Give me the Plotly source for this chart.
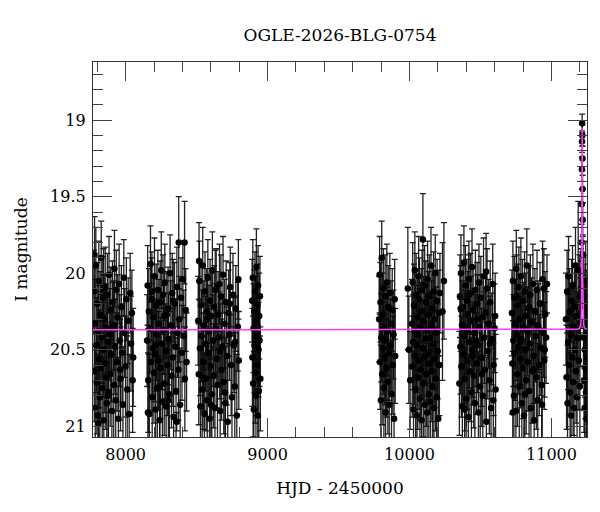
import plotly.graph_objects as go

# --- photometry, season by season (HJD - 2450000, I mag, error) ---
t_s1 = [7776, 7779, 7783, 7786, 7790, 7793, 7797, 7800, 7804, 7807,
        7811, 7814, 7818, 7821, 7825, 7828, 7832, 7835, 7839, 7842,
        7846, 7849, 7853, 7856, 7860, 7864, 7867, 7871, 7875, 7879,
        7883, 7887, 7891, 7895, 7899, 7903, 7907, 7912, 7916, 7921,
        7925, 7930, 7934, 7939, 7944, 7949, 7954, 7959, 7964, 7970,
        7975, 7981, 7987, 7993, 7999, 8005, 8011, 8018, 8025, 8032,
        8038, 8044, 8049, 8053, 7781, 7809, 7844, 7877, 7918, 7962]
mag_s1 = [20.12, 20.64, 20.33, 20.88, 19.95, 20.47, 20.71, 20.20, 20.93, 20.38,
          20.05, 20.56, 20.81, 20.27, 20.62, 19.90, 20.42, 20.75, 20.16, 20.50,
          20.96, 20.30, 20.59, 20.09, 20.68, 20.36, 20.85, 20.14, 20.45, 20.78,
          20.01, 20.40, 20.66, 20.24, 20.53, 20.90, 20.19, 20.35, 20.73, 19.97,
          20.48, 20.83, 20.11, 20.58, 20.29, 20.95, 20.07, 20.44, 20.69, 20.22,
          20.52, 20.86, 20.03, 20.39, 20.61, 20.17, 20.76, 20.31, 20.92, 20.13,
          20.46, 20.26, 20.70, 20.55, 19.88, 20.98, 20.10, 20.80, 20.34, 20.63]
err_s1 = [0.27, 0.33, 0.29, 0.38, 0.25, 0.31, 0.34, 0.27, 0.40, 0.30,
          0.26, 0.32, 0.36, 0.28, 0.33, 0.24, 0.30, 0.35, 0.27, 0.31,
          0.41, 0.29, 0.32, 0.26, 0.34, 0.29, 0.37, 0.27, 0.31, 0.35,
          0.25, 0.30, 0.34, 0.28, 0.31, 0.39, 0.27, 0.29, 0.35, 0.25,
          0.31, 0.37, 0.26, 0.32, 0.28, 0.40, 0.26, 0.30, 0.34, 0.27,
          0.32, 0.38, 0.25, 0.29, 0.33, 0.27, 0.35, 0.28, 0.39, 0.26,
          0.31, 0.28, 0.34, 0.32, 0.25, 0.42, 0.26, 0.36, 0.29, 0.33]

t_s2 = [8151, 8155, 8159, 8163, 8167, 8171, 8175, 8179, 8183, 8187,
        8191, 8195, 8199, 8203, 8207, 8211, 8215, 8219, 8223, 8227,
        8231, 8235, 8239, 8243, 8247, 8251, 8255, 8259, 8263, 8268,
        8272, 8276, 8281, 8285, 8290, 8294, 8299, 8303, 8308, 8313,
        8318, 8323, 8328, 8333, 8338, 8344, 8349, 8355, 8361, 8366,
        8372, 8378, 8384, 8390, 8397, 8403, 8410, 8417, 8423, 8429,
        8157, 8185, 8213, 8241, 8270, 8301, 8335, 8360, 8374, 8415]
mag_s2 = [20.44, 20.08, 20.70, 20.25, 20.92, 20.36, 19.94, 20.58, 20.17, 20.81,
          20.49, 20.29, 20.65, 20.02, 20.53, 20.89, 20.21, 20.40, 20.75, 20.11,
          20.57, 20.33, 20.96, 20.19, 20.62, 19.98, 20.46, 20.84, 20.14, 20.37,
          20.72, 20.06, 20.51, 20.87, 20.27, 20.60, 20.23, 20.43, 20.79, 20.00,
          20.34, 20.67, 20.13, 20.55, 20.94, 20.20, 20.48, 20.77, 20.09, 20.39,
          20.63, 20.30, 20.86, 20.16, 20.52, 20.04, 20.41, 20.69, 20.24, 20.58,
          20.91, 20.12, 20.47, 20.74, 20.28, 20.83, 20.18, 20.97, 19.80, 19.80]
err_s2 = [0.30, 0.26, 0.34, 0.28, 0.39, 0.29, 0.25, 0.32, 0.27, 0.36,
          0.31, 0.28, 0.33, 0.25, 0.31, 0.38, 0.27, 0.30, 0.35, 0.26,
          0.32, 0.29, 0.42, 0.27, 0.33, 0.25, 0.30, 0.37, 0.26, 0.29,
          0.34, 0.25, 0.31, 0.38, 0.28, 0.33, 0.27, 0.30, 0.36, 0.25,
          0.29, 0.34, 0.26, 0.32, 0.40, 0.27, 0.31, 0.35, 0.26, 0.29,
          0.33, 0.28, 0.37, 0.26, 0.31, 0.25, 0.30, 0.34, 0.27, 0.32,
          0.39, 0.26, 0.30, 0.35, 0.28, 0.37, 0.27, 0.06, 0.30, 0.27]

t_s3 = [8511, 8515, 8519, 8523, 8527, 8531, 8535, 8539, 8543, 8547,
        8551, 8555, 8559, 8563, 8567, 8571, 8575, 8579, 8583, 8587,
        8591, 8595, 8599, 8603, 8607, 8611, 8616, 8620, 8624, 8629,
        8633, 8638, 8642, 8647, 8651, 8656, 8661, 8666, 8671, 8676,
        8681, 8686, 8691, 8697, 8702, 8708, 8713, 8719, 8725, 8731,
        8737, 8743, 8749, 8756, 8762, 8769, 8776, 8783, 8790, 8797,
        8517, 8545, 8573, 8601, 8631, 8664, 8700, 8735, 8771, 8794]
mag_s3 = [20.31, 20.66, 20.05, 20.49, 20.87, 20.21, 20.41, 20.76, 19.95, 20.58,
          20.34, 20.92, 20.12, 20.46, 20.69, 20.25, 20.83, 20.03, 20.52, 20.38,
          20.95, 20.18, 20.61, 20.28, 20.79, 19.98, 20.44, 20.67, 20.22, 20.88,
          20.36, 20.10, 20.56, 20.73, 20.27, 20.42, 20.07, 20.90, 20.15, 20.63,
          20.48, 20.01, 20.71, 20.33, 20.85, 20.19, 20.54, 20.97, 20.26, 20.40,
          20.09, 20.60, 20.81, 20.14, 20.47, 20.74, 20.23, 20.93, 20.35, 20.57,
          19.92, 20.68, 20.30, 20.86, 20.11, 20.51, 20.78, 20.20, 20.45, 20.04]
err_s3 = [0.29, 0.33, 0.26, 0.31, 0.37, 0.27, 0.30, 0.35, 0.25, 0.32,
          0.29, 0.40, 0.26, 0.31, 0.34, 0.28, 0.37, 0.25, 0.31, 0.30,
          0.41, 0.27, 0.33, 0.28, 0.36, 0.25, 0.30, 0.34, 0.27, 0.38,
          0.29, 0.26, 0.32, 0.35, 0.28, 0.30, 0.26, 0.39, 0.27, 0.33,
          0.31, 0.25, 0.34, 0.29, 0.37, 0.27, 0.32, 0.42, 0.28, 0.30,
          0.26, 0.33, 0.36, 0.27, 0.31, 0.35, 0.28, 0.40, 0.29, 0.32,
          0.25, 0.34, 0.29, 0.38, 0.26, 0.31, 0.36, 0.27, 0.30, 0.26]

t_s4 = [8891, 8893, 8896, 8898, 8901, 8903, 8906, 8908, 8911, 8913,
        8916, 8918, 8921, 8923, 8926, 8928, 8931, 8933, 8936, 8938,
        8941, 8943, 8946, 8949]
mag_s4 = [20.18, 20.55, 20.03, 20.72, 20.36, 20.89, 20.25, 20.47, 20.12, 20.65,
          20.31, 20.80, 19.96, 20.41, 20.60, 20.21, 20.93, 20.08, 20.50, 20.77,
          20.28, 20.44, 20.15, 20.69]
err_s4 = [0.27, 0.32, 0.25, 0.35, 0.29, 0.38, 0.27, 0.31, 0.26, 0.33,
          0.29, 0.36, 0.25, 0.30, 0.33, 0.27, 0.40, 0.26, 0.31, 0.35,
          0.28, 0.30, 0.26, 0.34]

t_s5 = [9786, 9789, 9792, 9795, 9798, 9801, 9804, 9807, 9810, 9813,
        9816, 9819, 9822, 9825, 9828, 9831, 9834, 9837, 9840, 9843,
        9847, 9850, 9854, 9857, 9861, 9865, 9869, 9873, 9878, 9882,
        9887, 9891, 9895, 9899]
mag_s5 = [20.30, 20.01, 20.58, 20.19, 20.83, 20.42, 19.90, 20.66, 20.27, 20.49,
          20.10, 20.75, 20.36, 20.55, 20.15, 20.91, 20.44, 20.62, 20.06, 20.38,
          20.71, 20.22, 20.52, 20.86, 20.13, 20.47, 20.33, 20.79, 20.24, 20.60,
          20.40, 20.95, 20.17, 20.54]
err_s5 = [0.28, 0.25, 0.31, 0.26, 0.36, 0.29, 0.24, 0.33, 0.27, 0.30,
          0.26, 0.34, 0.28, 0.31, 0.27, 0.39, 0.29, 0.32, 0.25, 0.29,
          0.34, 0.27, 0.31, 0.37, 0.26, 0.30, 0.28, 0.35, 0.27, 0.32,
          0.29, 0.41, 0.26, 0.31]

t_s6 = [9988, 9995, 10004, 10016, 10019, 10022, 10025, 10028, 10031, 10034,
        10037, 10040, 10043, 10046, 10049, 10052, 10055, 10058, 10061, 10064,
        10067, 10070, 10073, 10076, 10079, 10082, 10085, 10088, 10091, 10094,
        10097, 10100, 10103, 10106, 10109, 10112, 10115, 10118, 10121, 10124,
        10127, 10130, 10133, 10136, 10139, 10142, 10145, 10148, 10151, 10154,
        10157, 10160, 10163, 10166, 10169, 10172, 10175, 10178, 10181, 10184,
        10187, 10190, 10194, 10198, 10202, 10206, 10210, 10214, 10232, 10242]
mag_s6 = [20.10, 20.50, 20.70, 20.33, 20.61, 20.06, 20.45, 20.89, 20.21, 20.54,
          19.98, 20.38, 20.76, 20.14, 20.47, 20.93, 20.29, 20.68, 20.40, 20.02,
          20.57, 20.17, 20.82, 20.35, 20.63, 20.25, 20.96, 20.11, 20.49, 19.78,
          20.72, 20.31, 20.55, 20.08, 20.86, 20.43, 20.19, 20.66, 20.37, 20.91,
          20.04, 20.52, 20.27, 20.79, 20.15, 20.59, 20.42, 20.84, 19.95, 20.34,
          20.64, 20.23, 20.74, 20.46, 20.12, 20.88, 20.30, 20.56, 20.00, 20.69,
          20.39, 20.81, 20.18, 20.51, 20.95, 20.26, 20.60, 20.13, 20.25, 20.05]
err_s6 = [0.40, 0.35, 0.32, 0.29, 0.33, 0.26, 0.31, 0.38, 0.27, 0.32,
          0.25, 0.30, 0.35, 0.27, 0.31, 0.40, 0.28, 0.34, 0.30, 0.26,
          0.32, 0.27, 0.37, 0.29, 0.33, 0.28, 0.42, 0.26, 0.31, 0.30,
          0.35, 0.29, 0.32, 0.26, 0.38, 0.30, 0.27, 0.34, 0.29, 0.40,
          0.25, 0.31, 0.28, 0.36, 0.27, 0.33, 0.30, 0.37, 0.25, 0.29,
          0.33, 0.28, 0.35, 0.30, 0.26, 0.39, 0.29, 0.32, 0.25, 0.34,
          0.30, 0.36, 0.27, 0.31, 0.41, 0.28, 0.33, 0.26, 0.45, 0.38]

t_s7 = [10351, 10355, 10358, 10362, 10365, 10369, 10372, 10376, 10379, 10383,
        10386, 10390, 10393, 10397, 10400, 10404, 10407, 10411, 10414, 10418,
        10421, 10425, 10429, 10432, 10436, 10440, 10444, 10448, 10452, 10456,
        10460, 10464, 10468, 10472, 10476, 10480, 10485, 10489, 10493, 10498,
        10502, 10507, 10511, 10516, 10521, 10526, 10531, 10536, 10541, 10546,
        10551, 10557, 10562, 10568, 10574, 10580, 10586, 10592, 10599, 10606,
        10360, 10388, 10416, 10446, 10478, 10509, 10539, 10566, 10590, 10603]
mag_s7 = [20.72, 20.15, 20.48, 20.00, 20.61, 20.34, 20.87, 20.22, 20.53, 19.93,
          20.41, 20.69, 20.08, 20.37, 20.82, 20.18, 20.57, 20.27, 20.94, 20.04,
          20.45, 20.64, 20.13, 20.31, 20.78, 19.96, 20.50, 20.24, 20.67, 20.39,
          20.85, 20.11, 20.44, 20.59, 20.20, 20.47, 20.91, 20.06, 20.35, 20.74,
          20.16, 20.55, 20.29, 20.80, 20.02, 20.42, 20.63, 20.26, 20.97, 20.10,
          20.51, 20.33, 20.70, 20.19, 20.88, 20.43, 20.07, 20.60, 20.36, 20.76,
          20.23, 20.89, 20.14, 20.54, 20.30, 20.66, 19.99, 20.46, 20.83, 20.28]
err_s7 = [0.34, 0.27, 0.31, 0.25, 0.33, 0.29, 0.38, 0.27, 0.32, 0.24,
          0.30, 0.34, 0.26, 0.29, 0.37, 0.27, 0.32, 0.28, 0.41, 0.25,
          0.30, 0.33, 0.26, 0.29, 0.36, 0.25, 0.31, 0.28, 0.34, 0.29,
          0.38, 0.26, 0.30, 0.33, 0.27, 0.31, 0.40, 0.25, 0.29, 0.35,
          0.27, 0.32, 0.28, 0.36, 0.25, 0.30, 0.34, 0.28, 0.42, 0.26,
          0.31, 0.29, 0.35, 0.27, 0.39, 0.30, 0.26, 0.33, 0.29, 0.36,
          0.28, 0.39, 0.26, 0.32, 0.29, 0.34, 0.25, 0.31, 0.37, 0.28]

t_s8 = [10721, 10724, 10728, 10731, 10735, 10738, 10742, 10745, 10749, 10752,
        10756, 10759, 10763, 10766, 10770, 10773, 10777, 10780, 10784, 10787,
        10791, 10795, 10798, 10802, 10806, 10810, 10814, 10818, 10822, 10826,
        10830, 10834, 10838, 10842, 10846, 10851, 10855, 10860, 10864, 10869,
        10873, 10878, 10883, 10888, 10893, 10898, 10903, 10908, 10914, 10919,
        10925, 10931, 10937, 10943, 10949, 10955, 10727, 10754, 10782, 10812,
        10844, 10875, 10905, 10934, 10946, 10952, 10968, 10962]
mag_s8 = [20.26, 20.59, 20.05, 20.44, 20.80, 20.16, 20.52, 20.33, 20.90, 19.97,
          20.40, 20.66, 20.21, 20.48, 20.09, 20.74, 20.30, 20.56, 20.02, 20.43,
          20.85, 20.18, 20.62, 20.35, 20.93, 20.12, 20.50, 20.28, 20.70, 19.95,
          20.38, 20.58, 20.23, 20.77, 20.46, 20.14, 20.88, 20.32, 20.64, 20.07,
          20.54, 20.96, 20.25, 20.41, 20.68, 20.11, 20.83, 20.36, 20.60, 20.20,
          20.49, 20.73, 20.04, 20.39, 20.57, 20.27, 20.91, 20.15, 20.45, 20.79,
          20.22, 20.63, 20.34, 20.86, 20.10, 20.50, 20.07, 20.42]
err_s8 = [0.28, 0.33, 0.26, 0.30, 0.36, 0.27, 0.31, 0.29, 0.39, 0.25,
          0.30, 0.34, 0.27, 0.31, 0.26, 0.35, 0.29, 0.32, 0.25, 0.30,
          0.37, 0.27, 0.33, 0.29, 0.41, 0.26, 0.31, 0.28, 0.35, 0.24,
          0.29, 0.32, 0.27, 0.36, 0.30, 0.26, 0.38, 0.29, 0.34, 0.26,
          0.31, 0.42, 0.28, 0.30, 0.34, 0.26, 0.37, 0.29, 0.33, 0.27,
          0.31, 0.35, 0.25, 0.29, 0.32, 0.28, 0.40, 0.27, 0.30, 0.36,
          0.27, 0.33, 0.29, 0.38, 0.26, 0.31, 0.19, 0.30]

t_s9 = [11102, 11106, 11110, 11113, 11117, 11120, 11124, 11127, 11131, 11134,
        11138, 11141, 11145, 11148, 11152, 11155, 11159, 11162, 11166, 11169,
        11173, 11176, 11180, 11184, 11188, 11192, 11196, 11200, 11204, 11208,
        11211, 11212, 11213, 11214, 11215, 11216, 11217, 11218, 11219, 11220,
        11221, 11222,
        11225, 11227, 11229, 11231, 11233, 11235, 11237, 11239, 11241, 11243,
        11245, 11247, 11249, 11250]
mag_s9 = [20.30, 20.68, 20.12, 20.85, 20.45, 20.02, 20.60, 20.25, 20.78, 20.40,
          20.93, 20.18, 20.55, 20.08, 20.71, 20.35, 20.88, 20.22, 20.50, 19.95,
          20.64, 20.28, 20.81, 20.42, 19.98, 20.57, 20.15, 20.74, 20.32, 20.10,
          20.00, 19.80, 19.55, 19.32, 19.14, 19.02, 19.10, 19.25, 19.45, 19.65,
          19.88, 20.05,
          20.42, 20.15, 20.70, 20.33, 20.88, 20.50, 20.22, 20.62, 20.05, 20.78,
          20.38, 20.95, 20.26, 20.55]
err_s9 = [0.30, 0.34, 0.27, 0.38, 0.31, 0.26, 0.33, 0.28, 0.36, 0.30,
          0.41, 0.27, 0.32, 0.26, 0.35, 0.29, 0.39, 0.28, 0.31, 0.25,
          0.34, 0.28, 0.37, 0.30, 0.45, 0.32, 0.27, 0.35, 0.29, 0.26,
          0.14, 0.12, 0.10, 0.08, 0.07, 0.06, 0.07, 0.08, 0.09, 0.11,
          0.13, 0.15,
          0.30, 0.27, 0.34, 0.29, 0.38, 0.31, 0.28, 0.33, 0.26, 0.36,
          0.30, 0.41, 0.28, 0.32]

# --- model light curve ---
model_t = [7770, 11150, 11185, 11198, 11205, 11209, 11211, 11213, 11214, 11215, 11216, 11217, 11218, 11219,
           11221, 11223, 11227, 11234, 11247, 11250]
model_mag = [20.37, 20.37, 20.366, 20.36, 20.34, 20.30, 20.24, 20.0, 19.72, 19.35, 19.05, 19.35, 19.72, 20.0,
             20.24, 20.30, 20.34, 20.36, 20.366, 20.367]

t_all = t_s1 + t_s2 + t_s3 + t_s4 + t_s5 + t_s6 + t_s7 + t_s8 + t_s9
mag_all = mag_s1 + mag_s2 + mag_s3 + mag_s4 + mag_s5 + mag_s6 + mag_s7 + mag_s8 + mag_s9
err_all = err_s1 + err_s2 + err_s3 + err_s4 + err_s5 + err_s6 + err_s7 + err_s8 + err_s9

font = "DejaVu Serif"

fig = go.Figure()
fig.add_trace(go.Scatter(
    x=t_all, y=mag_all, mode="markers",
    marker=dict(color="black", size=6.5),
    error_y=dict(type="data", array=err_all, color="rgba(10,10,10,0.9)", thickness=1.3, width=3),
    showlegend=False))
fig.add_trace(go.Scatter(
    x=model_t, y=model_mag, mode="lines",
    line=dict(color="#ff40ff", width=1.5),
    showlegend=False))

axis_common = dict(
    showline=True, linecolor="#333", linewidth=1.2, mirror="allticks",
    ticks="inside", ticklen=19, tickcolor="#444", tickwidth=1,
    showgrid=False, zeroline=False, ticklabelstandoff=3,
    tickfont=dict(family=font, size=16, color="black"),
)

fig.update_xaxes(
    range=[7770, 11250], tick0=8000, dtick=1000, tickformat="d",
    minor=dict(ticks="inside", ticklen=10, dtick=200, tickcolor="#444"),
    title=dict(text="HJD - 2450000", font=dict(family=font, size=17, color="black"), standoff=18),
    **axis_common)
fig.update_yaxes(
    range=[21.07, 18.62], tick0=19, dtick=0.5,
    minor=dict(ticks="inside", ticklen=10, dtick=0.1, tickcolor="#444"),
    title=dict(text="I magnitude", font=dict(family=font, size=17, color="black"), standoff=18),
    **axis_common)

# the page body adds an 8px offset, so margins are shifted accordingly
fig.update_layout(
    width=600, height=512,
    margin=dict(l=79, r=21, t=54, b=83),
    paper_bgcolor="white", plot_bgcolor="white",
    title=dict(text="OGLE-2026-BLG-0754", x=0.5, xref="paper", xanchor="center",
               y=0.947, yref="container", yanchor="middle",
               font=dict(family=font, size=17, color="black")),
)

fig.write_html("out.html")
